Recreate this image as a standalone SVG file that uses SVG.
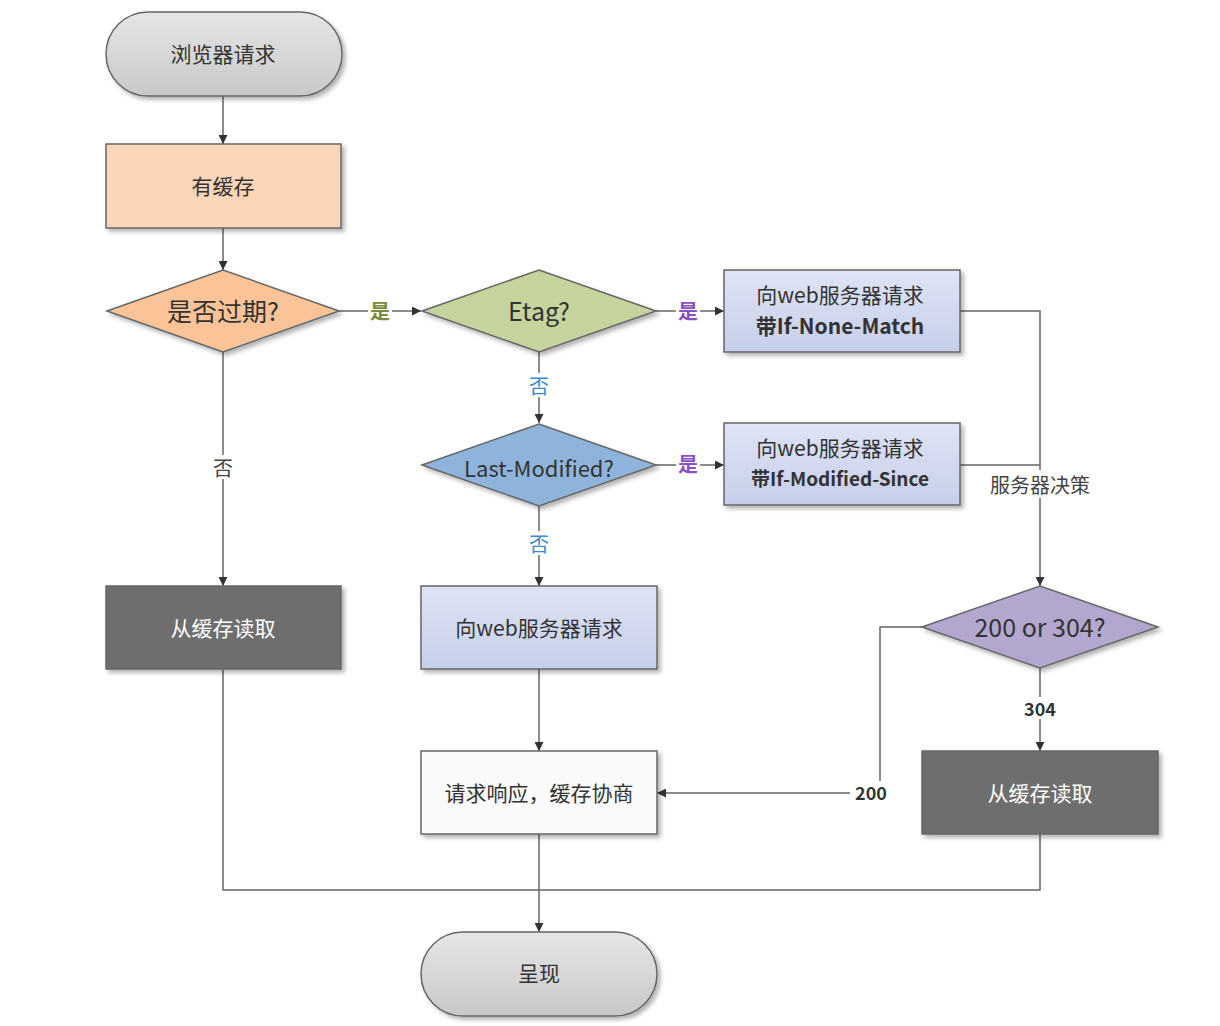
<svg xmlns="http://www.w3.org/2000/svg" width="1220" height="1026" viewBox="0 0 1220 1026">
<defs>
<filter id="sh" x="-10%" y="-10%" width="125%" height="130%"><feDropShadow dx="3" dy="3" stdDeviation="2" flood-color="#000" flood-opacity="0.3"/></filter>
<marker id="ar" viewBox="0 0 10 10" refX="10" refY="5" markerWidth="9" markerHeight="9" orient="auto" markerUnits="userSpaceOnUse"><path d="M0,0 L10,5 L0,10 z" fill="#333"/></marker>
<linearGradient id="gGray" x1="0" y1="0" x2="0" y2="1"><stop offset="0" stop-color="#e6e6e6"/><stop offset="1" stop-color="#c8c8c8"/></linearGradient>
<linearGradient id="gBox" x1="0" y1="0" x2="0" y2="1"><stop offset="0" stop-color="#dfe4f5"/><stop offset="1" stop-color="#c6cfea"/></linearGradient>
</defs>
<style>
.n{stroke:#666;stroke-width:1.5;filter:url(#sh)}
.t{font-family:"Noto Sans CJK SC","Open Sans",sans-serif;fill:#333;text-anchor:middle;dominant-baseline:central}
.c{fill:none;stroke:#666;stroke-width:1.5}
.lb{font-family:"Noto Sans CJK SC",sans-serif;font-size:20px;text-anchor:middle;dominant-baseline:central}
.big{font-size:21px}
</style>
<rect width="1220" height="1026" fill="#fff"/>
<g id="connectors">
<path class="c" d="M223,96V144" marker-end="url(#ar)"/>
<path class="c" d="M223,228V270" marker-end="url(#ar)"/>
<path class="c" d="M223,352V586" marker-end="url(#ar)"/>
<path class="c" d="M339,311H421" marker-end="url(#ar)"/>
<path class="c" d="M656,311H724" marker-end="url(#ar)"/>
<path class="c" d="M539,352V423" marker-end="url(#ar)"/>
<path class="c" d="M656,465H724" marker-end="url(#ar)"/>
<path class="c" d="M539,506V586" marker-end="url(#ar)"/>
<path class="c" d="M960,311H1040V586" marker-end="url(#ar)"/>
<path class="c" d="M960,465H1040"/>
<path class="c" d="M1040,668V751" marker-end="url(#ar)"/>
<path class="c" d="M922,627H880V793H657" marker-end="url(#ar)"/>
<path class="c" d="M539,669V751" marker-end="url(#ar)"/>
<path class="c" d="M223,669V890H1040V834"/>
<path class="c" d="M539,834V932" marker-end="url(#ar)"/>
<rect x="211" y="455" width="24" height="24" fill="#fff"/><text class="lb" x="223" y="467" fill="#444">否</text>
<rect x="368" y="298" width="24" height="26" fill="#fff"/><text class="lb" x="380" y="310" fill="#7a8a3a" font-weight="bold">是</text>
<rect x="676" y="298" width="24" height="26" fill="#fff"/><text class="lb" x="688" y="310" fill="#8a4fc0" font-weight="bold">是</text>
<rect x="676" y="451" width="24" height="26" fill="#fff"/><text class="lb" x="688" y="463" fill="#8a4fc0" font-weight="bold">是</text>
<rect x="527" y="373" width="24" height="24" fill="#fff"/><text class="lb" x="539" y="385" fill="#3a8ad0">否</text>
<rect x="527" y="531" width="24" height="24" fill="#fff"/><text class="lb" x="539" y="543" fill="#3a8ad0">否</text>
<rect x="982" y="470" width="116" height="28" fill="#fff"/><text class="lb" x="1040" y="484" fill="#444">服务器决策</text>
<rect x="1019" y="697" width="42" height="22" fill="#fff"/><text class="lb" x="1040" y="708" fill="#333" font-weight="bold" style="font-size:18px">304</text>
<rect x="850" y="781" width="42" height="22" fill="#fff"/><text class="lb" x="871" y="792" fill="#333" font-weight="bold" style="font-size:18px">200</text>
</g>
<g id="start"><rect class="n" x="106" y="12" width="236" height="84" rx="42" fill="url(#gGray)"/><text class="t big" x="223" y="53">浏览器请求</text></g>
<g id="hasCache"><rect class="n" x="106" y="144" width="235" height="84" fill="#fcd6b8"/><text class="t big" x="223" y="185">有缓存</text></g>
<g id="expired"><path class="n" d="M107,311L223,270L339,311L223,352Z" fill="#fbc498"/><text class="t" x="223" y="310" font-size="25">是否过期?</text></g>
<g id="etag"><path class="n" d="M422,311L539,270L656,311L539,352Z" fill="#c5d39d"/><text class="t" x="539" y="310" font-size="25">Etag?</text></g>
<g id="reqNoneMatch"><rect class="n" x="724" y="270" width="236" height="82" fill="url(#gBox)"/><text class="t big" x="840" y="294">向web服务器请求</text><text class="t big" x="840" y="325" font-weight="bold">带If-None-Match</text></g>
<g id="lastMod"><path class="n" d="M422,465L539,424L656,465L539,506Z" fill="#8fb4dc"/><text class="t" x="539" y="467" font-size="22">Last-Modified?</text></g>
<g id="reqModSince"><rect class="n" x="724" y="423" width="236" height="82" fill="url(#gBox)"/><text class="t big" x="840" y="447">向web服务器请求</text><text class="t" x="840" y="477" font-size="19" font-weight="bold">带If-Modified-Since</text></g>
<g id="readCacheL"><rect class="n" x="106" y="586" width="235" height="83" fill="#6e6e6e"/><text class="t big" x="223" y="627" style="fill:#fff">从缓存读取</text></g>
<g id="reqWeb"><rect class="n" x="421" y="586" width="236" height="83" fill="url(#gBox)"/><text class="t big" x="539" y="627">向web服务器请求</text></g>
<g id="status"><path class="n" d="M922,627L1040,586L1158,627L1040,668Z" fill="#b4a7cf"/><text class="t" x="1040" y="626" font-size="25">200 or 304?</text></g>
<g id="respNeg"><rect class="n" x="421" y="751" width="236" height="83" fill="#fafafa"/><text class="t big" x="539" y="792">请求响应，缓存协商</text></g>
<g id="readCacheR"><rect class="n" x="922" y="751" width="236" height="83" fill="#6e6e6e"/><text class="t big" x="1040" y="792" style="fill:#fff">从缓存读取</text></g>
<g id="render"><rect class="n" x="421" y="932" width="236" height="84" rx="42" fill="url(#gGray)"/><text class="t big" x="539" y="972">呈现</text></g>
</svg>
